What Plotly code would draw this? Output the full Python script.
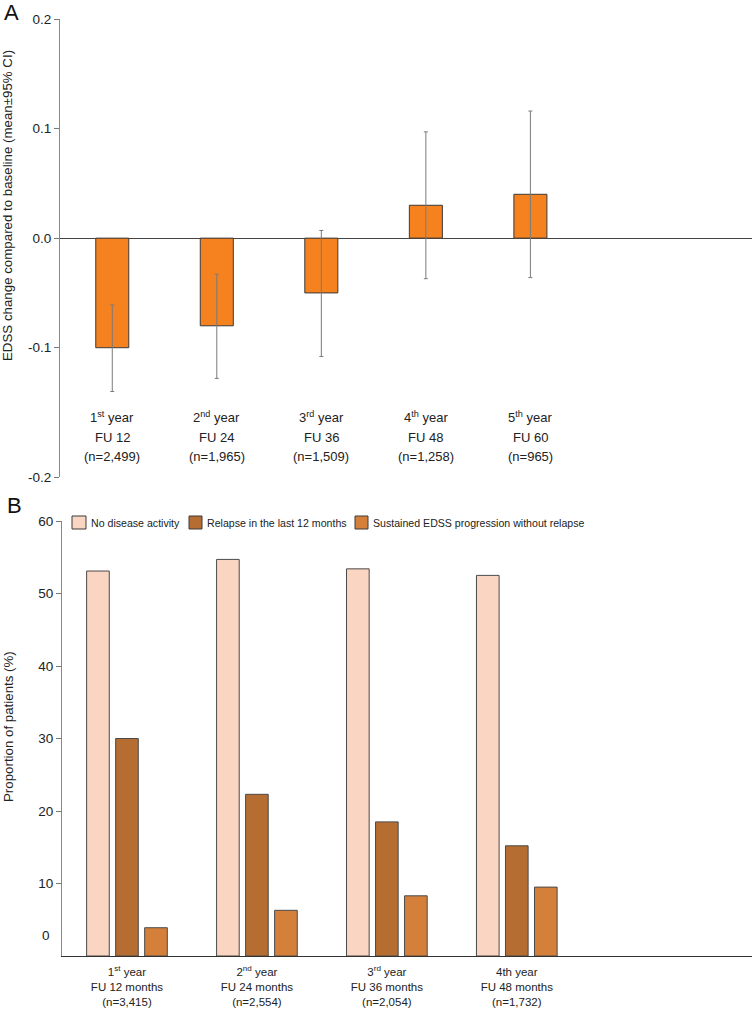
import plotly.graph_objects as go

# ---------------- Panel A data ----------------
a_cats = [0, 1, 2, 3, 4]
a_year_labels = ["1<sup>st</sup> year", "2<sup>nd</sup> year", "3<sup>rd</sup> year",
                 "4<sup>th</sup> year", "5<sup>th</sup> year"]
a_fu_labels = ["FU 12", "FU 24", "FU 36", "FU 48", "FU 60"]
a_n_labels = ["(n=2,499)", "(n=1,965)", "(n=1,509)", "(n=1,258)", "(n=965)"]
a_mean = [-0.100, -0.080, -0.050, 0.030, 0.040]
a_ci_upper = [-0.061, -0.033, 0.007, 0.097, 0.116]
a_ci_lower = [-0.140, -0.128, -0.108, -0.037, -0.036]
a_tickvals = [-0.218, -0.1, 0.0, 0.1, 0.2]
a_ticktext = ["-0.2", "-0.1", "0.0", "0.1", "0.2"]

# ---------------- Panel B data ----------------
b_cats = [0, 1, 2, 3]
b_ticktext = ["1<sup>st</sup> year<br>FU 12 months<br>(n=3,415)",
              "2<sup>nd</sup> year<br>FU 24 months<br>(n=2,554)",
              "3<sup>rd</sup> year<br>FU 36 months<br>(n=2,054)",
              "4th year<br>FU 48 months<br>(n=1,732)"]
b_series = ["No disease activity", "Relapse in the last 12 months",
            "Sustained EDSS progression without relapse"]
b_no_activity = [53.1, 54.7, 53.4, 52.5]
b_relapse = [30.0, 22.3, 18.5, 15.2]
b_progression = [3.9, 6.3, 8.3, 9.5]
b_tickvals = [10, 20, 30, 40, 50, 60]

W, H = 752, 1012
REG = "Liberation Sans, Arial, sans-serif"
TXT = "#222222"

fig = go.Figure()

a_err_plus = [u - m for u, m in zip(a_ci_upper, a_mean)]
a_err_minus = [m - l for l, m in zip(a_ci_lower, a_mean)]

fig.add_trace(go.Bar(
    x=a_cats, y=a_mean, width=0.316,
    marker=dict(color="#F5821F", line=dict(color="#3a3a3a", width=1)),
    error_y=dict(type="data", symmetric=False, array=a_err_plus, arrayminus=a_err_minus,
                 color="#7a7a7a", thickness=1, width=2),
    xaxis="x", yaxis="y", showlegend=False,
))

b_colors = ["#FAD5C2", "#B56D31", "#D5803A"]
for name, vals, col in zip(b_series, [b_no_activity, b_relapse, b_progression], b_colors):
    fig.add_trace(go.Bar(
        x=b_cats, y=vals, name=name, showlegend=False,
        marker=dict(color=col, line=dict(color="#4a4a4a", width=1)),
        xaxis="x2", yaxis="y2",
    ))

ann = []
shapes = []
# Panel A category labels
for xv, l1, l2, l3 in zip(a_cats, a_year_labels, a_fu_labels, a_n_labels):
    for txt, py in [(l1, 417), (l2, 437), (l3, 456)]:
        ann.append(dict(x=xv, xref="x", y=1 - py / H, yref="paper", text=txt,
                        showarrow=False, font=dict(family=REG, size=13, color=TXT),
                        xanchor="center", yanchor="middle"))
# Panel letters
ann.append(dict(x=2 / W, y=1 - 12 / H, xref="paper", yref="paper", text="A", showarrow=False,
                xanchor="left", yanchor="middle", font=dict(family=REG, size=22, color="#111")))
ann.append(dict(x=5 / W, y=1 - 505 / H, xref="paper", yref="paper", text="B", showarrow=False,
                xanchor="left", yanchor="middle", font=dict(family=REG, size=22, color="#111")))
# Y titles
ann.append(dict(x=8 / W, y=1 - 206 / H, xref="paper", yref="paper",
                text="EDSS change compared to baseline (mean±95% CI)", textangle=-90,
                showarrow=False, xanchor="center", yanchor="middle",
                font=dict(family=REG, size=13.3, color=TXT)))
ann.append(dict(x=8 / W, y=1 - 727 / H, xref="paper", yref="paper",
                text="Proportion of patients (%)", textangle=-90,
                showarrow=False, xanchor="center", yanchor="middle",
                font=dict(family=REG, size=13.3, color=TXT)))
# misplaced "0" label of panel B (no tick in the original)
ann.append(dict(x=52 / W, y=1 - 935 / H, xref="paper", yref="paper", text="0",
                showarrow=False, xanchor="right", yanchor="middle",
                font=dict(family=REG, size=13.5, color=TXT)))

# Legend of panel B (boxes + labels)
leg_box_x = [(72, 86), (189, 202), (355, 368)]
leg_text_x = [89, 205, 371]
for (x0, x1), tx, name, col in zip(leg_box_x, leg_text_x, b_series, b_colors):
    shapes.append(dict(type="rect", xref="paper", yref="paper",
                       x0=x0 / W, x1=x1 / W, y0=1 - 529 / H, y1=1 - 516 / H,
                       fillcolor=col, line=dict(color="#3a3a3a", width=1)))
    ann.append(dict(x=tx / W, y=1 - 522.5 / H, xref="paper", yref="paper", text=name,
                    showarrow=False, xanchor="left", yanchor="middle",
                    font=dict(family=REG, size=10.6, color=TXT)))

fig.update_layout(
    width=W, height=H, margin=dict(l=0, r=0, t=0, b=0, autoexpand=False),
    paper_bgcolor="white", plot_bgcolor="white",
    barmode="group", bargap=0.33, bargroupgap=0.22,
    font=dict(family=REG, size=13.5, color=TXT),
    showlegend=False,
    xaxis=dict(domain=[60 / W, 1], anchor="y", range=[-0.5, 6.12], automargin=False,
               showticklabels=False, showline=False, showgrid=False, zeroline=False, ticks=""),
    yaxis=dict(domain=[1 - 477 / H, 1 - 19 / H], anchor="x", range=[-0.218, 0.2],
               automargin=False,
               tickvals=a_tickvals, ticktext=a_ticktext, ticks="outside", ticklen=5,
               tickcolor="#777", showline=True, linecolor="#888", linewidth=1,
               showgrid=False, zeroline=True, zerolinecolor="#444", zerolinewidth=1,
               tickfont=dict(family=REG, size=13.5, color=TXT)),
    xaxis2=dict(domain=[62 / W, 1], anchor="y2", range=[-0.5, 4.81], automargin=False,
                tickvals=b_cats, ticktext=b_ticktext, ticks="", showline=True,
                linecolor="#333", linewidth=1, showgrid=False, zeroline=False,
                ticklabelstandoff=5,
                tickfont=dict(family=REG, size=11.5, color=TXT)),
    yaxis2=dict(domain=[1 - 956 / H, 1 - 521 / H], anchor="x2", range=[0, 60],
                automargin=False,
                tickvals=b_tickvals, ticks="outside", ticklen=5, tickcolor="#777",
                showline=True, linecolor="#888", linewidth=1, showgrid=False, zeroline=False,
                tickfont=dict(family=REG, size=13.5, color=TXT)),
    annotations=ann,
    shapes=shapes,
)

fig.write_html("out.html", config={"displayModeBar": False},
               post_script="document.body.style.margin='0';")
